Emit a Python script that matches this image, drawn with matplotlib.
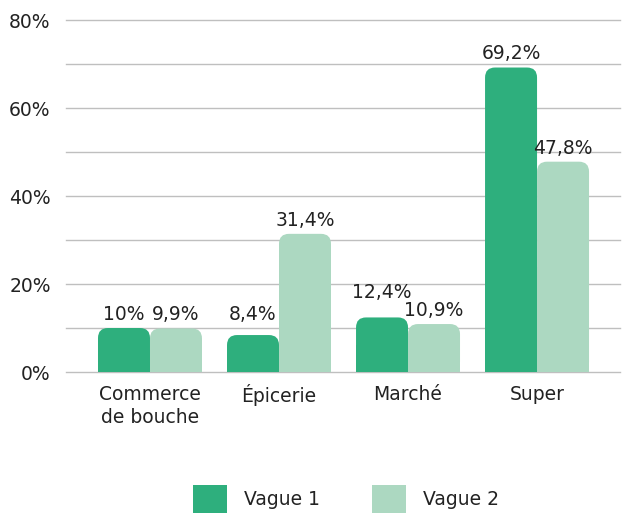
import matplotlib
matplotlib.use('Agg')
import matplotlib.pyplot as plt
from matplotlib.patches import FancyBboxPatch, Rectangle, Patch
import numpy as np

plt.rcParams['font.family'] = ['DejaVu Sans']

categories = ['Commerce\nde bouche', 'Épicerie', 'Marché', 'Super']
vague1 = [10.0, 8.4, 12.4, 69.2]
vague2 = [9.9, 31.4, 10.9, 47.8]
labels1 = ['10%', '8,4%', '12,4%', '69,2%']
labels2 = ['9,9%', '31,4%', '10,9%', '47,8%']
series_names = ['Vague 1', 'Vague 2']
yticks = [0, 20, 40, 60, 80]

dark = '#2eaf7d'
light = '#acd8c1'
text_col = '#222222'
fs = 13.5

fig = plt.figure(figsize=(6.24, 5.15), dpi=100)
ax = fig.add_axes([66 / 624, 143 / 515, 554 / 624, 352 / 515])

ax.set_xlim(-0.651, 3.643)
ax.set_ylim(0, 80)

# grid every 10%, labels every 20%
for g in range(0, 81, 10):
    ax.axhline(g, color='#bfbfbf', lw=1, zorder=0, clip_on=False)

ax.set_yticks(yticks)
ax.set_yticklabels([f'{t}%' for t in yticks])
ax.set_xticks(range(len(categories)))
ax.set_xticklabels(categories, linespacing=1.3)
ax.tick_params(length=0, labelsize=fs, colors=text_col)
ax.tick_params(axis='y', pad=11)
ax.tick_params(axis='x', pad=9)
for s in ax.spines.values():
    s.set_visible(False)

width = 0.403
fig.canvas.draw()
# data units per pixel, for rounding the top corners
x_per_px = (ax.get_xlim()[1] - ax.get_xlim()[0]) / ax.bbox.width
y_per_px = (ax.get_ylim()[1] - ax.get_ylim()[0]) / ax.bbox.height
aspect = y_per_px / x_per_px
r = 10 * x_per_px


def rbar(x0, h, color):
    box = FancyBboxPatch((x0, 0), width, h,
                         boxstyle=f'round,pad=0,rounding_size={r}',
                         mutation_aspect=aspect, fc=color, ec='none', zorder=2)
    ax.add_patch(box)
    ax.add_patch(Rectangle((x0, 0), width, h / 2, fc=color, ec='none', zorder=2))


# extra lift (points) for a couple of labels as in the original
lift1 = [0, 5, 8, 0]
lift2 = [0, 0, 0, 0]

x = np.arange(len(categories))
for i in range(len(categories)):
    rbar(x[i] - width, vague1[i], dark)
    rbar(x[i], vague2[i], light)
    ax.annotate(labels1[i], (x[i] - width / 2, vague1[i]), xytext=(0, 3 + lift1[i]),
                textcoords='offset points', ha='center', va='bottom',
                fontsize=fs, color=text_col)
    ax.annotate(labels2[i], (x[i] + width / 2, vague2[i]), xytext=(0, 3 + lift2[i]),
                textcoords='offset points', ha='center', va='bottom',
                fontsize=fs, color=text_col)

handles = [Patch(fc=dark, ec='none'), Patch(fc=light, ec='none')]
fig.legend(handles, series_names, loc='center', bbox_to_anchor=(346 / 624, 16 / 515),
           ncol=2, frameon=False, fontsize=fs, handlelength=1.8, handleheight=2.0,
           columnspacing=2.8, handletextpad=0.9, labelcolor=text_col)

fig.savefig('out.png', dpi=100)
